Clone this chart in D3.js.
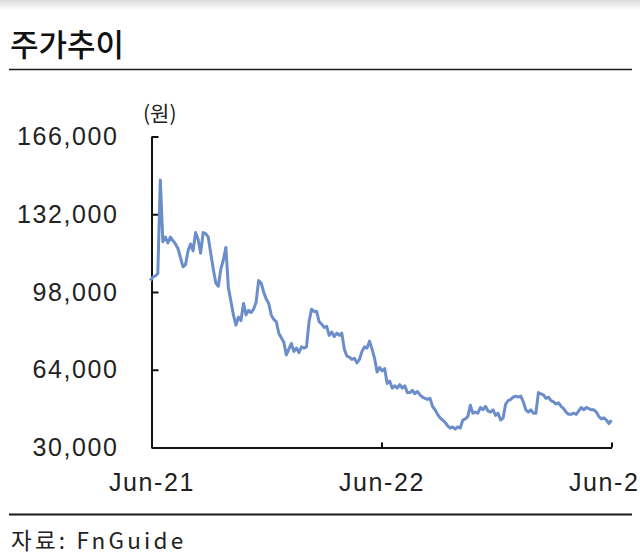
<!DOCTYPE html>
<html>
<head>
<meta charset="utf-8">
<script src="https://cdn.jsdelivr.net/npm/d3@7"></script>
<style>
  html, body { margin: 0; padding: 0; background: #fff; }
  svg { display: block; }
</style>
</head>
<body>
<svg id="chart" width="640" height="560"></svg>
<script>
// ---- data ----
const title = "주가추이";
const unitLabel = "(원)";
const sourceLabel = "자료: FnGuide";
const startDate = "2021-05-30";
const stepDays = 4;
// closing price (원), sampled every 4 days from startDate
const prices = [
  103000,104500,105000,106000,147000,120000,122000,119500,122000,120500,
  119000,117000,113000,109000,110000,116000,119000,116000,124000,121000,
  115000,124000,123500,122000,115000,108000,102000,100500,108000,112000,
  117500,100000,94000,88000,83500,87000,85500,93000,88000,90000,
  89000,90500,93500,103000,102000,98000,95000,93000,88000,86000,
  85000,80000,78000,76000,70500,73000,75500,72000,73500,71500,
  74000,73500,74000,85000,90500,89500,89500,85000,84000,82500,
  83000,79000,80500,78500,80000,79000,80000,73000,70000,69500,
  68500,69000,67000,68500,72000,74000,73500,76500,73000,69000,
  63000,65000,63500,64500,58000,59000,56000,57000,56000,57500,
  56000,57000,54000,54000,55000,53500,54500,53000,52000,51500,
  51000,51500,48000,46500,44500,43000,42000,41000,39500,38500,
  39000,38000,39000,38500,42000,42500,43500,48500,45000,45500,
  45000,47500,46500,48000,46000,45500,46500,44000,45000,42000,
  43000,49000,50500,51000,52000,52500,52000,52500,50000,46500,
  45500,46500,45000,45000,54000,53500,53000,51500,52000,50500,
  50000,49000,49500,48000,47000,45500,44500,44500,45000,44500,
  46000,47500,46500,47500,47000,46500,46500,45500,43500,42500,
  43000,42000,40500,42000
];
const yTicks = [30000, 64000, 98000, 132000, 166000];
const xTickDates = ["2021-06-01", "2022-06-01", "2023-06-01"];
const xTickLabels = ["Jun-21", "Jun-22", "Jun-23"];

// ---- drawing ----
const svg = d3.select("#chart");
const parse = d3.timeParse("%Y-%m-%d");
const start = parse(startDate);
const series = prices.map((v, i) => ({ date: d3.timeDay.offset(start, i * stepDays), value: v }));

// top shadow band
const defs = svg.append("defs");
const grad = defs.append("linearGradient").attr("id", "topShade").attr("x1", 0).attr("y1", 0).attr("x2", 0).attr("y2", 1);
grad.append("stop").attr("offset", "0%").attr("stop-color", "#dcdcdc");
grad.append("stop").attr("offset", "100%").attr("stop-color", "#ffffff");
svg.append("rect").attr("x", 0).attr("y", 0).attr("width", 640).attr("height", 10).attr("fill", "url(#topShade)");

// title
svg.append("text")
  .attr("x", 10).attr("y", 55.5)
  .attr("font-family", "'Noto Sans CJK KR', 'Noto Sans', sans-serif")
  .attr("font-size", 31).attr("font-weight", 500).attr("fill", "#111")
  .text(title);
svg.append("line").attr("x1", 9).attr("x2", 632).attr("y1", 69.5).attr("y2", 69.5)
  .attr("stroke", "#1a1a1a").attr("stroke-width", 1.6);

const x = d3.scaleTime()
  .domain([parse(xTickDates[0]), parse(xTickDates[2])])
  .range([151.5, 611.5]);
const y = d3.scaleLinear()
  .domain([yTicks[0], yTicks[yTicks.length - 1]])
  .range([447.5, 136.5]);

const fmt = d3.format(",");
const labelFont = "'Liberation Sans', Arial, sans-serif";

// y axis
const yAxis = d3.axisLeft(y).tickValues(yTicks).tickFormat(fmt).tickSizeInner(-7).tickSizeOuter(0).tickPadding(33);
const gy = svg.append("g").attr("transform", "translate(151.5,0)").call(yAxis);
gy.select(".domain").attr("stroke", "#111").attr("stroke-width", 2);
gy.selectAll(".tick line").attr("stroke", "#111").attr("stroke-width", 2);
gy.selectAll(".tick text").attr("font-family", labelFont).attr("font-size", 25)
  .attr("letter-spacing", 1.6).attr("fill", "#222");

// x axis
const xAxis = d3.axisBottom(x).tickValues(xTickDates.map(parse))
  .tickFormat((d, i) => xTickLabels[i]).tickSizeInner(-5).tickSizeOuter(0).tickPadding(26);
const gx = svg.append("g").attr("transform", "translate(0,447.5)").call(xAxis);
gx.select(".domain").attr("stroke", "#111").attr("stroke-width", 2);
gx.selectAll(".tick line").attr("stroke", "#111").attr("stroke-width", 2);
gx.selectAll(".tick text").attr("font-family", labelFont).attr("font-size", 25)
  .attr("letter-spacing", 1.6).attr("fill", "#222");

// unit label
svg.append("text").attr("x", 143).attr("y", 121)
  .attr("font-family", "'Noto Sans CJK KR', sans-serif").attr("font-size", 21).attr("fill", "#222")
  .text(unitLabel);

// price line
const line = d3.line().x(d => x(d.date)).y(d => y(d.value)).curve(d3.curveLinear);
svg.append("path").datum(series)
  .attr("fill", "none").attr("stroke", "#6b8ecb").attr("stroke-width", 3)
  .attr("stroke-linejoin", "round")
  .attr("d", line);

// footer
svg.append("line").attr("x1", 9).attr("x2", 632).attr("y1", 514.5).attr("y2", 514.5)
  .attr("stroke", "#1a1a1a").attr("stroke-width", 2);
svg.append("text").attr("x", 11).attr("y", 549)
  .attr("font-family", "'Noto Sans CJK KR', sans-serif").attr("font-size", 22.5)
  .attr("letter-spacing", 3.2).attr("fill", "#222")
  .text(sourceLabel);
</script>
</body>
</html>
